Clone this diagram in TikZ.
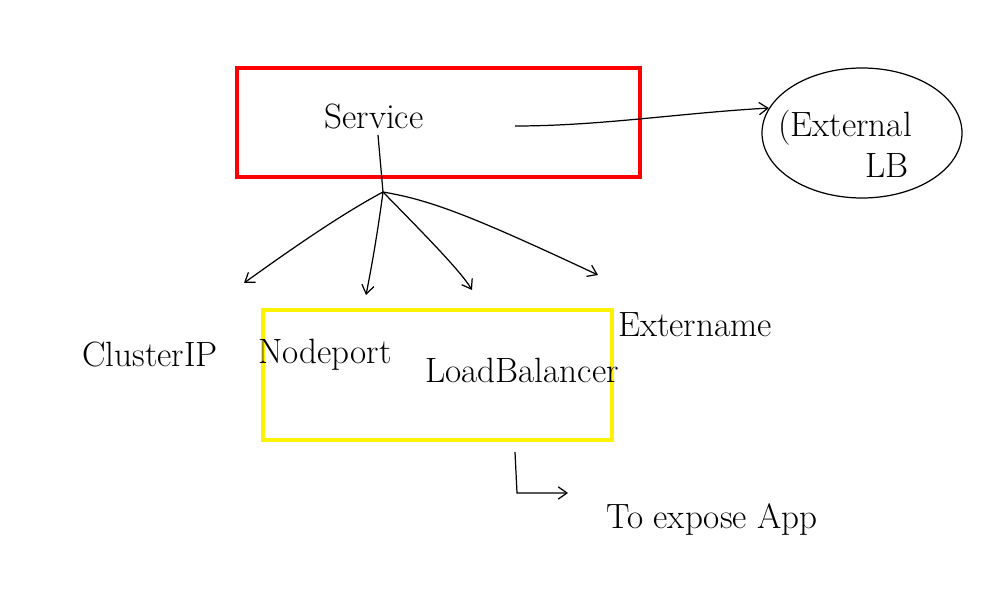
\documentclass[tikz,border=0pt]{standalone}
\usetikzlibrary{arrows.meta,shapes.geometric}
\begin{document}
\begin{tikzpicture}[x=0.02cm,y=-0.02cm,
  pen/.style={draw=black, line width=0.7pt},
  arr/.style={pen, -{Straight Barb[length=5pt,width=7pt]}},
  lbl/.style={font=\fontsize{20}{22}\selectfont, inner sep=1pt},
  redbox/.style={draw=red, line width=2.4pt, minimum width=403*0.02cm, minimum height=109*0.02cm, inner sep=0pt},
  yellowbox/.style={draw=yellow, line width=2.4pt, minimum width=349*0.02cm, minimum height=130*0.02cm, inner sep=0pt}]
\useasboundingbox (0,0) rectangle (994,614);
\fill[white] (0,0) rectangle (994,614);
% boxes
\node[redbox] (svcbox) at (438.5,122.5) {};
\node[yellowbox] (ybox) at (437.5,375) {};
\node[lbl] (svc) at (374,117) {Service};
% external LB
\node[ellipse, pen, minimum width=200*0.02cm, minimum height=130*0.02cm] (ext) at (862,133) {};
\node[lbl] (exttxt) at (845,128) {(External};
\node[lbl] (lb) at (887,166) {LB};
\coordinate (s1) at (515,126);
\draw[arr] (s1) .. controls (600,126) and (680,113) .. (ext.165);
% hub
\coordinate (svcbot) at (378,135);
\coordinate (hub) at (383,192);
\draw[pen] (svcbot) -- (hub);
% targets
\node[lbl] (cip) at (150,355) {ClusterIP};
\node[lbl] (np) at (325,355) {Nodeport};
\node[lbl] (lbal) at (522,370) {LoadBalancer};
\node[lbl] (en) at (695,325) {Extername};
\coordinate (t1) at (244,283);
\coordinate (t2) at (366,295);
\coordinate (t3) at (472,290);
\coordinate (t4) at (598,275);
\draw[arr] (hub) .. controls (340,215) and (290,250) .. (t1);
\draw[arr] (hub) .. controls (378,230) and (372,265) .. (t2);
\draw[arr] (hub) .. controls (420,230) and (460,270) .. (t3);
\draw[arr] (hub) .. controls (430,200) and (470,215) .. (t4);
% bottom arrow
\coordinate (b1) at (515,452);
\coordinate (b2) at (517,493);
\coordinate (b3) at (568,493);
\node[lbl] (expose) at (712,520) {To expose App};
\draw[arr] (b1) -- (b2) -- (b3);
\end{tikzpicture}
\end{document}
